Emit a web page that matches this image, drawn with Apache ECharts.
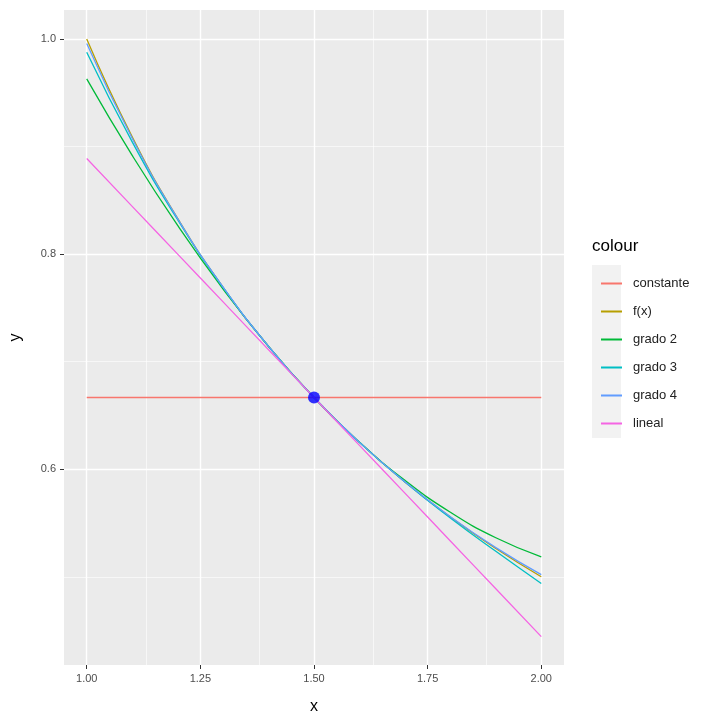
<!DOCTYPE html>
<html><head><meta charset="utf-8"><script src="https://cdn.jsdelivr.net/npm/echarts@6/dist/echarts.min.js"></script></head>
<body style="margin:0"><div id="c" style="width:720px;height:720px"></div>
<script>
const xs = [1.0,1.1,1.2,1.3,1.4,1.5,1.6,1.7,1.8,1.9,2.0];
const constante = [0.6667,0.6667,0.6667,0.6667,0.6667,0.6667,0.6667,0.6667,0.6667,0.6667,0.6667];
const fx = [1.0,0.9091,0.8333,0.7692,0.7143,0.6667,0.625,0.5882,0.5556,0.5263,0.5];
const grado2 = [0.9630,0.8918,0.8267,0.7675,0.7141,0.6667,0.6252,0.5897,0.5600,0.5363,0.5185];
const grado3 = [0.9877,0.9044,0.8320,0.7691,0.7143,0.6667,0.6250,0.5881,0.5547,0.5237,0.4938];
const grado4 = [0.9959,0.9078,0.8331,0.7693,0.7143,0.6667,0.6250,0.5883,0.5558,0.5271,0.5020];
const lineal = [0.8889,0.8444,0.8,0.7556,0.7111,0.6667,0.6222,0.5778,0.5333,0.4889,0.4444];
const point = [[1.5,0.6667]];
const xTicks = [1.0,1.25,1.5,1.75,2.0], xMinor = [1.125,1.375,1.625,1.875];
const yTicks = [0.6,0.8,1.0], yMinor = [0.5,0.7,0.9];
const names = ['constante','f(x)','grado 2','grado 3','grado 4','lineal'];
const colors = ['#F8766D','#B79F00','#00BA38','#00BFC4','#619CFF','#F564E3'];
const vals = [constante,fx,grado2,grado3,grado4,lineal];
const series = [{type:'line',data:[],silent:true,z:0,markLine:{silent:true,symbol:'none',label:{show:false},animation:false,z:0,
  data:[...xTicks.map(v=>({xAxis:v,lineStyle:{color:'#fff',width:1.4,type:'solid'}})),
        ...xMinor.map(v=>({xAxis:v,lineStyle:{color:'#fff',width:0.6,type:'solid'}})),
        ...yTicks.map(v=>({yAxis:v,lineStyle:{color:'#fff',width:1.4,type:'solid'}})),
        ...yMinor.map(v=>({yAxis:v,lineStyle:{color:'#fff',width:0.6,type:'solid'}}))]}}];
names.forEach((n,i)=>series.push({name:n,type:'line',smooth:true,showSymbol:false,color:colors[i],lineStyle:{width:1.3},z:3,
  data:xs.map((x,j)=>[x,vals[i][j]])}));
series.push({type:'scatter',data:point,symbolSize:12,itemStyle:{color:'#0000FF'},z:10});
const ax = {color:'#4D4D4D',fontSize:11};
echarts.init(document.getElementById('c')).setOption({
  animation:false,
  grid:{left:62,right:156,top:10,bottom:54,show:true,backgroundColor:'#EBEBEB',borderWidth:0},
  xAxis:{type:'value',min:0.95,max:2.05,name:'x',nameLocation:'middle',nameGap:34,nameTextStyle:{fontSize:16,color:'#000'},
    axisLine:{show:false},splitLine:{show:false},
    axisTick:{show:true,customValues:xTicks,length:4,lineStyle:{color:'#333'}},
    axisLabel:{...ax,customValues:xTicks,formatter:v=>v.toFixed(2)}},
  yAxis:{type:'value',min:0.418,max:1.027,name:'y',nameLocation:'middle',nameGap:40,nameTextStyle:{fontSize:16,color:'#000'},
    axisLine:{show:false},splitLine:{show:false},
    axisTick:{show:true,customValues:yTicks,length:4,lineStyle:{color:'#333'}},
    axisLabel:{...ax,customValues:yTicks,formatter:v=>v.toFixed(1)}},
  legend:{orient:'vertical',left:596,top:272,itemWidth:21,itemHeight:2,itemGap:15,icon:'rect',
    textStyle:{fontSize:13,color:'#222',padding:[0,0,0,6]},data:names},
  graphic:[{type:'text',left:592,top:238,style:{text:'colour',fontSize:17,fill:'#000'}},
    {type:'rect',left:592,top:265,z:-1,shape:{width:29,height:173},style:{fill:'#F2F2F2'}}],
  series
});
</script></body></html>
